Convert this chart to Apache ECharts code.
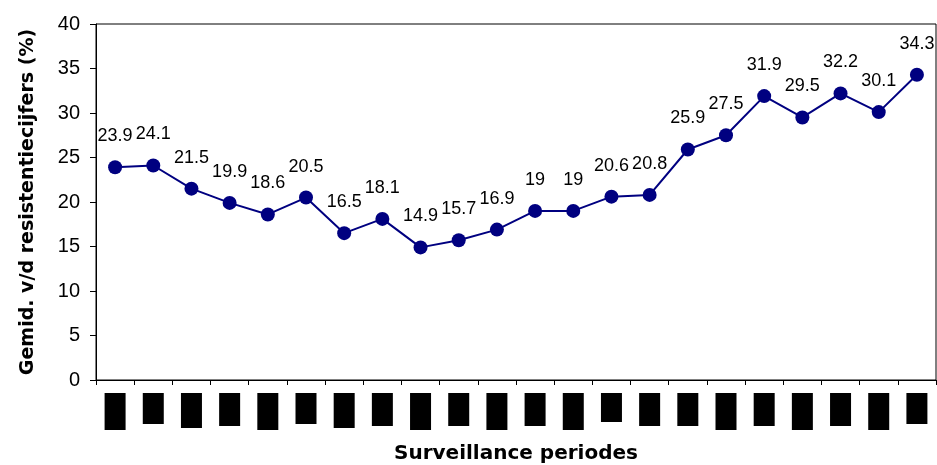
<!DOCTYPE html>
<html>
<head>
<meta charset="utf-8">
<title>Surveillance periodes</title>
<script src="https://cdn.jsdelivr.net/npm/echarts@6/dist/echarts.min.js"></script>
<style>
    html, body { margin: 0; padding: 0; background: #fff; }
    #main { width: 937px; height: 465px; }
</style>
</head>
<body>
<div id="main"></div>
<script>
    // periodes (labels zijn in het origineel afgedekt met zwarte blokken)
    var periodes = ['P1', 'P2', 'P3', 'P4', 'P5', 'P6', 'P7', 'P8', 'P9', 'P10', 'P11',
        'P12', 'P13', 'P14', 'P15', 'P16', 'P17', 'P18', 'P19', 'P20', 'P21', 'P22'];

    // gemiddelde resistentiecijfers (%)
    var waarden = [23.9, 24.1, 21.5, 19.9, 18.6, 20.5, 16.5, 18.1, 14.9, 15.7, 16.9,
        19, 19, 20.6, 20.8, 25.9, 27.5, 31.9, 29.5, 32.2, 30.1, 34.3];

    // y-as ticks
    var yMin = 0, yMax = 40, yStap = 5;

    // hoogte van de zwarte blokken onder de as (alleen opmaak)
    var blokHoogte = [37, 31, 35, 33, 37, 31, 35, 33, 37, 33, 37, 33, 37, 29, 33, 33, 37, 33, 37, 33, 37, 31];

    var rich = {};
    blokHoogte.forEach(function (h) {
        rich['h' + h] = {
            width: 21,
            height: h,
            backgroundColor: '#000',
            color: '#000',
            fontSize: 8
        };
    });

    var myChart = echarts.init(document.getElementById('main'));

    var option = {
        animation: false,
        backgroundColor: '#fff',
        grid: {
            show: true,
            left: 96,
            right: 1,
            top: 24,
            bottom: 85,
            outerBoundsMode: 'none',   // grid niet laten krimpen door labels
            borderColor: '#000',
            borderWidth: 1
        },
        xAxis: {
            type: 'category',
            data: periodes,
            boundaryGap: true,
            name: 'Surveillance periodes',
            nameLocation: 'middle',
            nameGap: 64,
            nameTextStyle: {
                fontFamily: 'DejaVu Sans',
                fontWeight: 'bold',
                fontSize: 20,
                color: '#000'
            },
            axisLine: { lineStyle: { color: '#000', width: 1 } },
            axisTick: { show: true, length: 5, lineStyle: { color: '#000' } },
            axisLabel: {
                interval: 0,
                margin: 13,
                verticalAlign: 'top',
                formatter: function (val, idx) {
                    return '{h' + blokHoogte[idx] + '|' + val + '}';
                },
                rich: rich
            },
            splitLine: { show: false }
        },
        yAxis: {
            type: 'value',
            min: yMin,
            max: yMax,
            interval: yStap,
            name: 'Gemid. v/d resistentiecijfers (%)',
            nameLocation: 'middle',
            nameGap: 58,
            nameTextStyle: {
                fontFamily: 'DejaVu Sans',
                fontWeight: 'bold',
                fontSize: 19,
                color: '#000'
            },
            axisLine: { show: true, lineStyle: { color: '#000', width: 1 } },
            axisTick: { show: true, length: 6, lineStyle: { color: '#000' } },
            axisLabel: {
                margin: 16,
                fontFamily: 'Liberation Sans',
                fontSize: 20,
                color: '#000'
            },
            splitLine: { show: false }
        },
        series: [{
            type: 'line',
            data: waarden,
            symbol: 'circle',
            symbolSize: 14,
            lineStyle: { color: '#000080', width: 2 },
            itemStyle: { color: '#000080' },
            label: {
                show: true,
                position: 'top',
                distance: 15,
                fontFamily: 'Liberation Sans',
                fontSize: 18,
                color: '#000'
            }
        }]
    };

    myChart.setOption(option);
</script>
</body>
</html>
